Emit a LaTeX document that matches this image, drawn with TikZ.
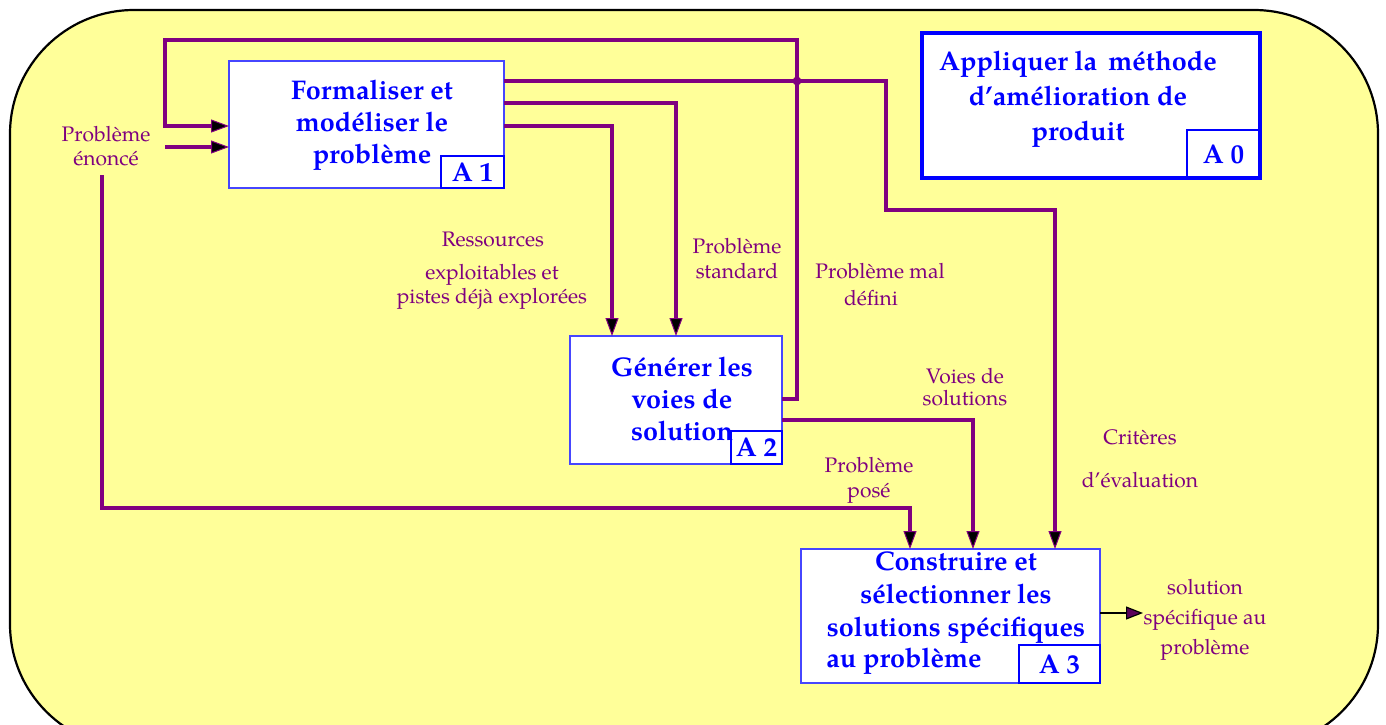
\documentclass[tikz,border=0pt]{standalone}
\usepackage{fontspec}
\setmainfont{TeX Gyre Pagella}
\usetikzlibrary{arrows.meta}
\definecolor{bgyellow}{RGB}{255,255,153}
\definecolor{flowpurple}{RGB}{128,0,128}
\definecolor{boxblue}{RGB}{0,0,255}
\definecolor{thinblue}{RGB}{70,70,255}
\tikzset{
  procbox/.style={draw=thinblue, line width=0.7pt, fill=white, inner sep=0pt, outer sep=0pt},
  tagbox/.style={draw=boxblue, line width=0.7pt, inner sep=0pt, outer sep=0pt, text=boxblue, font=\fontsize{13.5}{16}\selectfont\bfseries},
  boxtext/.style={text=boxblue, align=center, inner sep=0pt, font=\fontsize{13.5}{16}\selectfont\bfseries},
  lbl/.style={text=flowpurple, align=center, inner sep=0pt, font=\fontsize{10.5}{12.5}\selectfont},
  flow/.style={draw=flowpurple, line width=2pt, -{Triangle[length=9pt,width=6.5pt,fill=black,line width=0.5pt]}},
  outflow/.style={draw=black, line width=0.8pt, -{Triangle[length=8.5pt,width=6.5pt,fill=flowpurple!70!black,line width=0.6pt]}}
}
\begin{document}
\begin{tikzpicture}[x=0.5pt,y=-0.5pt]
\useasboundingbox (0,0) rectangle (1386,724);
\clip (0,0) rectangle (1386,724);
% background
\filldraw[fill=bgyellow, draw=black, line width=1.1pt, rounded corners=62pt] (10,10) rectangle (1378,748);

% A0
\node[draw=boxblue, line width=2pt, fill=white, inner sep=0pt, outer sep=0pt, minimum width=169pt, minimum height=72.5pt] (A0) at (1091,105.5) {};
\node[tagbox, minimum width=36.5pt, minimum height=24pt, anchor=south east] (A0t) at (A0.south east) {A 0};
\node[boxtext, font=\fontsize{13.5}{17.5}\selectfont\bfseries] (A0txt) at (1078,99) {Appliquer la \,méthode\\d’amélioration de\hspace*{6pt}\\produit};

% A1
\node[procbox, minimum width=137.5pt, minimum height=63.5pt] (A1) at (366.5,124.5) {};
\node[tagbox, minimum width=31.5pt, minimum height=16pt, anchor=south east] (A1t) at (A1.south east) {A 1};
\node[boxtext] (A1txt) at (372,125) {Formaliser et\\modéliser le\\problème};

% A2
\node[procbox, minimum width=106pt, minimum height=64pt] (A2) at (676,400) {};
\node[tagbox, minimum width=25.5pt, minimum height=16.5pt, anchor=south east] (A2t) at (A2.south east) {A 2};
\node[boxtext] (A2txt) at (682,399) {Générer les\\voies de\\solution};

% A3
\node[procbox, minimum width=149.5pt, minimum height=67pt] (A3) at (950.5,616) {};
\node[tagbox, minimum width=40.5pt, minimum height=19pt, anchor=south east] (A3t) at (A3.south east) {A 3};
\node[boxtext, font=\fontsize{13.5}{16.5}\selectfont\bfseries] (A3txt) at (956,598) {Construire et\\sélectionner les\\solutions spécifiques};
\node[boxtext, anchor=west] (A3txt2) at (826,661) {au problème};

% connectors
\draw[flow] (A2.east |- 0,399) -| (797,40) -| (165,126) -- (A1.west |- 0,126);
\coordinate (in1) at (165,147);
\draw[flow] (in1) -- (A1.west |- in1);
\coordinate (in2) at (102,175);
\draw[flow] (in2) |- (910,508) -- (A3.north -| 910,0);
\draw[flow] (A1.east |- 0,81) -| (886,210) -| (A3.north -| 1055,0);
\fill[flowpurple] (797,81) circle (2.2pt);
\draw[flow] (A1.east |- 0,103) -| (A2.north -| 676,0);
\draw[flow] (A1.east |- 0,126) -| (A2.north -| 612,0);
\draw[flow] (A2.east |- 0,420) -| (A3.north -| 973,0);
\coordinate (out1) at (1143,613);
\draw[outflow] (A3.east |- out1) -- (out1);

% labels
\node[lbl, font=\fontsize{10.5}{12}\selectfont] (l1) at (106,146) {Problème\\énoncé};
\node[lbl] (l2) at (493,239) {Ressources};
\node[lbl, font=\fontsize{10.5}{12}\selectfont] (l3) at (492,287) {exploitables et\\pistes déjà explorées};
\node[lbl] (l4) at (737,258.5) {Problème\\standard};
\node[lbl, font=\fontsize{10.5}{13.5}\selectfont] (l5) at (880,284.5) {Problème mal\\défini\hspace*{9pt}};
\node[lbl, font=\fontsize{10.5}{11}\selectfont] (l6) at (965,387) {Voies de\\solutions};
\node[lbl] (l7) at (869,480.5) {Problème\\posé};
\node[lbl] (l8) at (1140,437) {Critères};
\node[lbl] (l9) at (1140,480) {d'évaluation};
\node[lbl, font=\fontsize{10.5}{15}\selectfont] (l10) at (1205,620) {solution\\spécifique au\\problème};
\end{tikzpicture}
\end{document}
